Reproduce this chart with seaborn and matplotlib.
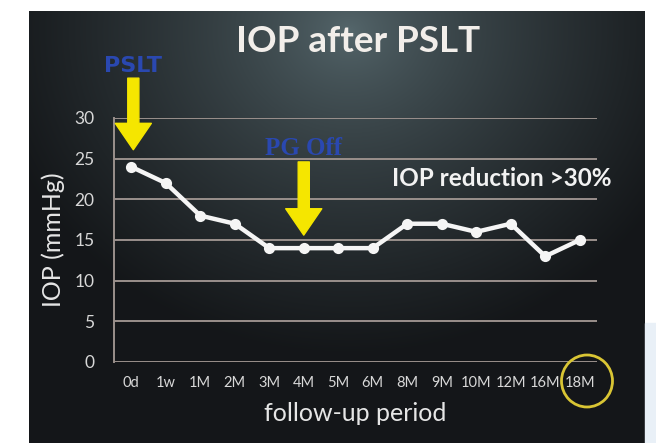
import numpy as np
import pandas as pd
import matplotlib
matplotlib.use("Agg")
import matplotlib.pyplot as plt
from matplotlib.patches import Ellipse, Rectangle
import seaborn as sns

# Datos
periods = ['0d', '1w', '1M', '2M', '3M', '4M', '5M', '6M', '8M', '9M', '10M', '12M', '16M', '18M']
iop = [24, 22, 18, 17, 14, 14, 14, 14, 17, 17, 16, 17, 13, 15]
y_ticks = [0, 5, 10, 15, 20, 25, 30]

df = pd.DataFrame({'period': periods, 'iop': iop})

sns.set_theme(style="dark")
plt.rcParams['font.family'] = ['Lato', 'DejaVu Sans']

W, H = 656, 443
fig = plt.figure(figsize=(W / 100, H / 100), dpi=100, facecolor='white')

# Fondo de la diapositiva (degradado oscuro)
sx0, sx1, sy0 = 29, 645, 11
bg = fig.add_axes([sx0 / W, 0, (sx1 - sx0) / W, (H - sy0) / H])
bw, bh = sx1 - sx0, H - sy0
xx, yy = np.meshgrid(np.arange(bw), np.arange(bh))
d = np.sqrt(((xx - 320) / 360.0) ** 2 + ((yy - 20) / 320.0) ** 2)
t = np.clip(d, 0, 1) ** 0.7
light = np.array([0.34, 0.41, 0.43])
dark = np.array([0.08, 0.09, 0.10])
img = light[None, None, :] * (1 - t[..., None]) + dark[None, None, :] * t[..., None]
bg.imshow(img, aspect='auto', interpolation='bilinear')
bg.set_axis_off()

fig.patches.append(Rectangle((sx1 / W, 0), (W - sx1) / W, 120 / H,
                             transform=fig.transFigure, color='#e9f0f7', zorder=0))

# Grafico principal
ax = fig.add_axes([114 / W, (H - 362) / H, (597 - 114) / W, (362 - 118) / H])
ax.set_facecolor('none')
sns.pointplot(data=df, x='period', y='iop', order=periods, color='#f5f5f5',
              markers='o', linestyles='-', ax=ax, zorder=5)
for ln in ax.lines:
    ln.set_linewidth(3.2)
    ln.set_markersize(6)
    ln.set_clip_on(False)

ax.set_ylim(0, 30)
ax.set_xlim(-0.5, len(periods) - 0.5)
ax.set_yticks(y_ticks)
ax.yaxis.grid(True, color='#9a908c', linewidth=1.4)
ax.xaxis.grid(False)
ax.set_axisbelow(True)
for s in ['top', 'right', 'bottom']:
    ax.spines[s].set_visible(False)
ax.spines['left'].set_color('#9a908c')
ax.spines['left'].set_linewidth(1.4)
ax.tick_params(axis='both', length=0, colors='#d8d8d8')
ax.tick_params(axis='y', labelsize=12.5, pad=14)
ax.tick_params(axis='x', labelsize=10.5, pad=10)

ax.set_xlabel('follow-up period', color='#e6e6e6', fontsize=18, labelpad=9)
ax.set_ylabel('IOP (mmHg)', color='#e6e6e6', fontsize=18, labelpad=7)

# Titulo
fig.text(358 / W, 1 - 42 / H, 'IOP after PSLT', ha='center', va='center',
         color='#f2eeea', fontsize=26.5, fontweight='bold')

# Flechas amarillas
arrow = dict(arrowstyle='simple,head_width=26,head_length=19,tail_width=8',
             color='#f5e600', mutation_scale=1, shrinkA=0, shrinkB=0)
ax.annotate('', xy=(0.06, 26.1), xytext=(0.06, 34.9), arrowprops=arrow,
            annotation_clip=False)
ax.annotate('', xy=(5, 15.6), xytext=(5, 24.6), arrowprops=arrow,
            annotation_clip=False)

ax.text(0.06, 36.4, 'PSLT', ha='center', va='center', color='#2a48b0',
        fontsize=16, fontweight='bold', family=['Liberation Sans Narrow', 'DejaVu Sans'],
        clip_on=False)
ax.text(5, 26.3, 'PG Off', ha='center', va='center', color='#2a48b0',
        fontsize=18, fontweight='bold', family=['Liberation Serif', 'DejaVu Serif'],
        clip_on=False)
ax.text(10.75, 22.5, 'IOP reduction >30%', ha='center', va='center',
        color='#f2f2f2', fontsize=17.5, fontweight='bold')

# Circulo en 18M
fig.patches.append(Ellipse((587 / W, 1 - 381 / H), 51 / W, 52 / H,
                           transform=fig.transFigure, fill=False,
                           edgecolor='#d9c534', linewidth=2, zorder=10))

fig.savefig('out.png', dpi=100, facecolor=fig.get_facecolor())
